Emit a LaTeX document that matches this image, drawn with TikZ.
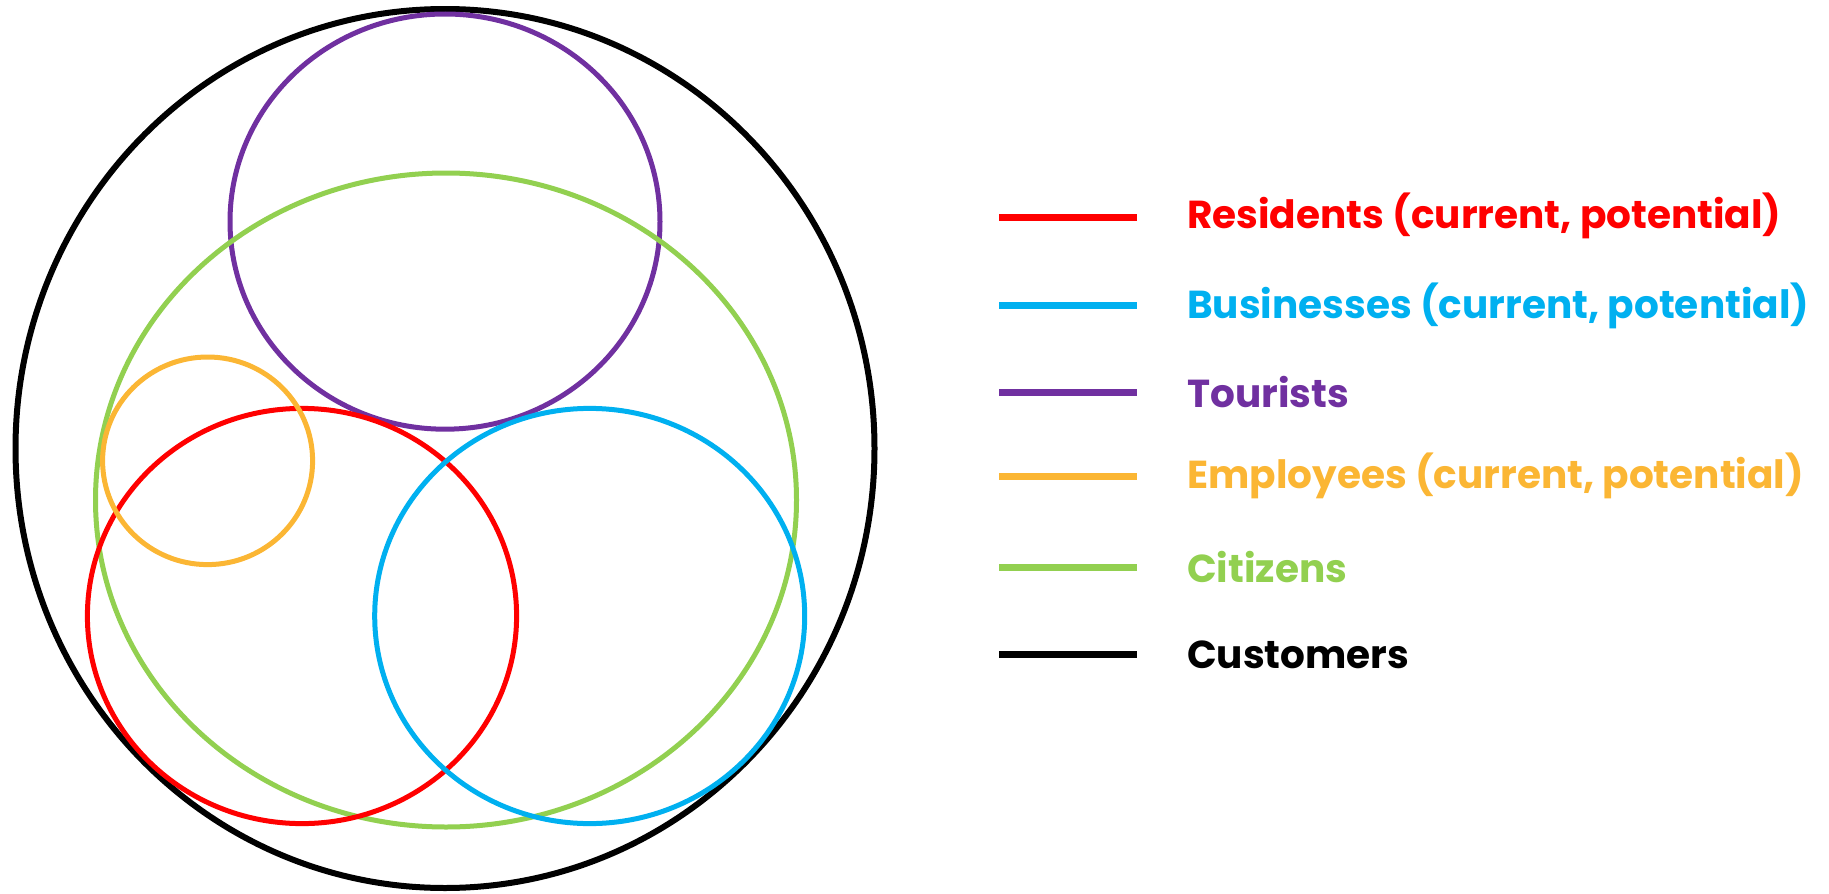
\documentclass[tikz,border=0pt]{standalone}
\usepackage{fontspec}
\setmainfont{Poppins}
\definecolor{resred}{HTML}{FF0000}
\definecolor{busblue}{HTML}{00B0F0}
\definecolor{tourpurple}{HTML}{7030A0}
\definecolor{emporange}{HTML}{FBB634}
\definecolor{citgreen}{HTML}{92D050}
\tikzset{
	set/.style={line width=5pt},
	legendline/.style={line width=7pt},
	legendtext/.style={anchor=west, inner sep=0pt, font=\fontsize{39}{45}\selectfont\bfseries}
}
\begin{document}
\begin{tikzpicture}[x=1pt, y=-1pt]
	\useasboundingbox (0, 0) rectangle (1829, 894);
	
	\coordinate (Cust) at (445, 448.5);
	\coordinate (Tour) at (445, 221.6);
	\coordinate (Cit) at (446, 500);
	\coordinate (Res) at (302, 616);
	\coordinate (Bus) at (589.7, 616);
	\coordinate (Emp) at (207.6, 460.8);
	
	\draw[set, line width=6pt, black] (Cust) ellipse [x radius=429.5, y radius=439.5];
	\draw[set, tourpurple] (Tour) ellipse [x radius=215, y radius=207.6];
	\draw[set, citgreen] (Cit) ellipse [x radius=350.5, y radius=327];
	\draw[set, resred] (Res) ellipse [x radius=214.6, y radius=207.6];
	\draw[set, busblue] (Bus) ellipse [x radius=215, y radius=207.6];
	\draw[set, emporange] (Emp) ellipse [x radius=105, y radius=103.8];
	
	\coordinate (L1a) at (999, 217);
	\coordinate (L1b) at (1137, 217);
	\coordinate (L2a) at (999, 305.6);
	\coordinate (L2b) at (1137, 305.6);
	\coordinate (L3a) at (999, 392);
	\coordinate (L3b) at (1137, 392);
	\coordinate (L4a) at (999, 476);
	\coordinate (L4b) at (1137, 476);
	\coordinate (L5a) at (999, 567);
	\coordinate (L5b) at (1137, 567);
	\coordinate (L6a) at (999, 654.4);
	\coordinate (L6b) at (1137, 654.4);
	
	\draw[legendline, resred] (L1a) -- (L1b);
	\draw[legendline, busblue] (L2a) -- (L2b);
	\draw[legendline, tourpurple] (L3a) -- (L3b);
	\draw[legendline, emporange] (L4a) -- (L4b);
	\draw[legendline, citgreen] (L5a) -- (L5b);
	\draw[legendline, black] (L6a) -- (L6b);
	
	\node[legendtext, text=resred] (T1) at (1187, 216) {Residents (current, potential)};
	\node[legendtext, text=busblue] (T2) at (1187, 305.6) {Businesses (current, potential)};
	\node[legendtext, text=tourpurple] (T3) at (1187, 392) {Tourists};
	\node[legendtext, text=emporange] (T4) at (1187, 476) {Employees (current, potential)};
	\node[legendtext, text=citgreen] (T5) at (1187, 567) {Citizens};
	\node[legendtext, text=black] (T6) at (1187, 654.4) {Customers};
\end{tikzpicture}
\end{document}
